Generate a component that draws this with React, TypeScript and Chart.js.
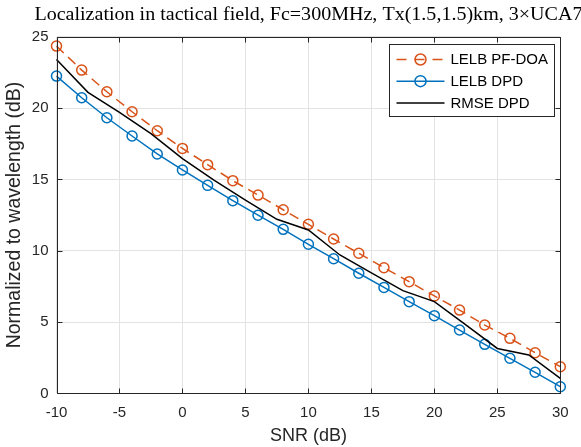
import React, { useEffect, useRef } from "react";
import { Chart, registerables } from "chart.js";

Chart.register(...registerables);

// ---- data ----
const snrMarkers = [-10, -8, -6, -4, -2, 0, 2, 4, 6, 8, 10, 12, 14, 16, 18, 20, 22, 24, 26, 28, 30];
const lelbPfDoa = [24.34, 22.66, 21.14, 19.74, 18.41, 17.17, 16.03, 14.91, 13.9, 12.87, 11.85, 10.82, 9.82, 8.81, 7.83, 6.83, 5.84, 4.79, 3.86, 2.85, 1.87];
const lelbDpd = [22.24, 20.72, 19.32, 18.04, 16.78, 15.66, 14.58, 13.51, 12.49, 11.5, 10.45, 9.44, 8.42, 7.43, 6.43, 5.45, 4.44, 3.44, 2.46, 1.48, 0.47];
const snrRmse = [-10, -7.5, -5, -2.5, 0, 2.5, 5, 7.5, 10, 12.5, 15, 17.5, 20, 22.5, 25, 27.5, 30];
const rmseDpd = [23.4, 21.1, 19.7, 18.2, 16.45, 14.95, 13.55, 12.2, 11.45, 9.7, 8.45, 7.2, 6.43, 4.8, 3.15, 2.69, 1.06];

const seriesNames = ["LELB PF-DOA", "LELB DPD", "RMSE DPD"];
const titleText = "Localization in tactical field, Fc=300MHz, Tx(1.5,1.5)km, 3\u00d7UCA7";
const xLabel = "SNR (dB)";
const yLabel = "Normalized to wavelength (dB)";

const ORANGE = "#D95319";
const BLUE = "#0072BD";
const BLACK = "#000000";
const AXIS = "#262626";
const SANS = "'Liberation Sans', Arial, sans-serif";

export default function App() {
  const ref = useRef<HTMLCanvasElement | null>(null);

  useEffect(() => {
    document.body.style.margin = "0";
    const canvas = ref.current!;

    const matlabPlugin = {
      id: "matlabLook",
      afterDatasetsDraw(chart: any) {
        const { ctx, chartArea: a, scales } = chart;
        ctx.save();
        ctx.strokeStyle = AXIS;
        ctx.lineWidth = 1;
        ctx.setLineDash([]);
        const L = Math.round(a.left) + 0.5;
        const R = Math.round(a.right) + 0.5;
        const T = Math.round(a.top) + 0.5;
        const B = Math.round(a.bottom) + 0.5;
        ctx.beginPath();
        ctx.rect(L, T, R - L, B - T);
        const tl = 5;
        scales.x.ticks.forEach((t: any) => {
          const px = Math.round(scales.x.getPixelForValue(t.value)) + 0.5;
          ctx.moveTo(px, B);
          ctx.lineTo(px, B - tl);
          ctx.moveTo(px, T);
          ctx.lineTo(px, T + tl);
        });
        scales.y.ticks.forEach((t: any) => {
          const py = Math.round(scales.y.getPixelForValue(t.value)) + 0.5;
          ctx.moveTo(L, py);
          ctx.lineTo(L + tl, py);
          ctx.moveTo(R, py);
          ctx.lineTo(R - tl, py);
        });
        ctx.stroke();
        ctx.restore();
      },
      afterDraw(chart: any) {
        const { ctx, chartArea: a } = chart;
        ctx.save();
        // title (serif, stretched slightly to match the LaTeX-like width)
        ctx.fillStyle = "#000";
        ctx.font = "18.5px 'Liberation Serif', 'DejaVu Serif', serif";
        ctx.textAlign = "center";
        ctx.textBaseline = "middle";
        const w = ctx.measureText(titleText).width;
        const sx = 548 / w;
        ctx.save();
        ctx.translate((a.left + a.right) / 2, 15);
        ctx.scale(sx, 1);
        ctx.fillText(titleText, 0, 0);
        ctx.restore();

        // legend
        const bx = Math.round(a.right - 171) + 0.5;
        const by = Math.round(a.top + 7) + 0.5;
        const bw = 165;
        const bh = 72;
        ctx.fillStyle = "#fff";
        ctx.fillRect(bx, by, bw, bh);
        ctx.strokeStyle = AXIS;
        ctx.lineWidth = 1;
        ctx.strokeRect(bx, by, bw, bh);
        const rows = [
          { color: ORANGE, dash: [10, 8], marker: true },
          { color: BLUE, dash: [], marker: true },
          { color: BLACK, dash: [], marker: false },
        ];
        rows.forEach((r, i) => {
          const y = by + 15 + i * 21.7;
          const x0 = bx + 7;
          const x1 = bx + 55;
          ctx.strokeStyle = r.color;
          ctx.lineWidth = 1.5;
          ctx.setLineDash(r.dash);
          ctx.beginPath();
          ctx.moveTo(x0, y);
          ctx.lineTo(x1, y);
          ctx.stroke();
          ctx.setLineDash([]);
          if (r.marker) {
            ctx.beginPath();
            ctx.arc((x0 + x1) / 2, y, 5.5, 0, Math.PI * 2);
            ctx.stroke();
          }
          ctx.fillStyle = "#000";
          ctx.font = "15px " + SANS;
          ctx.textAlign = "left";
          ctx.textBaseline = "middle";
          ctx.fillText(seriesNames[i], bx + 61, y + 0.5);
        });
        ctx.restore();
      },
    };

    const chart = new Chart(canvas, {
      type: "line",
      data: {
        datasets: [
          {
            label: seriesNames[0],
            data: snrMarkers.map((x, i) => ({ x, y: lelbPfDoa[i] })),
            borderColor: ORANGE,
            borderWidth: 1.5,
            borderDash: [10, 6],
            pointRadius: 5,
            pointBorderWidth: 1.5,
            pointBorderColor: ORANGE,
            pointBackgroundColor: "rgba(0,0,0,0)",
            tension: 0,
            clip: false,
            order: 3,
          },
          {
            label: seriesNames[1],
            data: snrMarkers.map((x, i) => ({ x, y: lelbDpd[i] })),
            borderColor: BLUE,
            borderWidth: 1.5,
            pointRadius: 5,
            pointBorderWidth: 1.5,
            pointBorderColor: BLUE,
            pointBackgroundColor: "rgba(0,0,0,0)",
            tension: 0,
            clip: false,
            order: 2,
          },
          {
            label: seriesNames[2],
            data: snrRmse.map((x, i) => ({ x, y: rmseDpd[i] })),
            borderColor: BLACK,
            borderWidth: 1.5,
            pointRadius: 0,
            tension: 0,
            clip: false,
            order: 1,
          },
        ],
      },
      options: {
        responsive: false,
        animation: false,
        events: [],
        layout: { padding: { left: 0, right: 20.7, top: 36.7, bottom: 0 } },
        plugins: {
          legend: { display: false },
          title: { display: false },
          tooltip: { enabled: false },
        },
        scales: {
          x: {
            type: "linear",
            min: -10,
            max: 30,
            ticks: {
              stepSize: 5,
              color: AXIS,
              font: { family: SANS, size: 15 },
              padding: 10,
              maxRotation: 0,
              autoSkip: false,
              callback: (v: any) => String(v),
            },
            grid: { color: "#e3e3e3", drawTicks: false, lineWidth: 1 },
            border: { display: false },
            title: {
              display: true,
              text: xLabel,
              color: AXIS,
              font: { family: SANS, size: 18 },
              padding: { top: 0, bottom: 0 },
            },
            afterFit: (s: any) => {
              s.height = 447 - 393.4;
            },
          },
          y: {
            type: "linear",
            min: 0,
            max: 25,
            ticks: {
              stepSize: 5,
              color: AXIS,
              font: { family: SANS, size: 15 },
              padding: 8,
              callback: (v: any) => String(v),
            },
            grid: { color: "#e3e3e3", drawTicks: false, lineWidth: 1 },
            border: { display: false },
            title: {
              display: true,
              text: yLabel,
              color: AXIS,
              font: { family: SANS, size: 19.5 },
              padding: { top: 3, bottom: 0 },
            },
            afterFit: (s: any) => {
              s.width = 56.5;
            },
          },
        },
      },
      plugins: [matlabPlugin],
    } as any);

    return () => chart.destroy();
  }, []);

  return (
    <div style={{ width: 581, height: 447 }}>
      <canvas ref={ref} width={581} height={447} style={{ display: "block" }} />
    </div>
  );
}
